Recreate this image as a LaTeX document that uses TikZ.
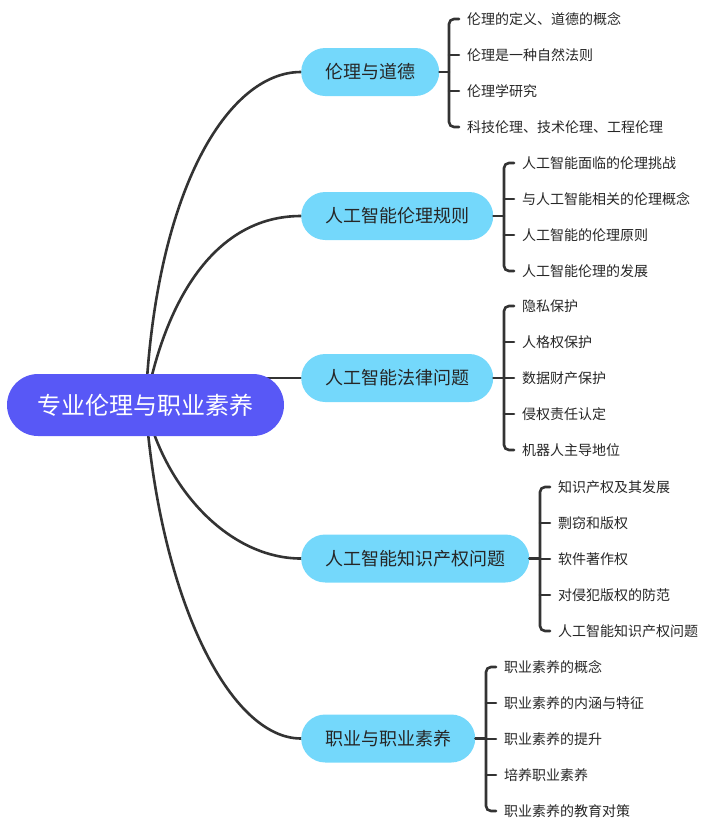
\documentclass[tikz,border=0pt]{standalone}
\usepackage{fontspec}
\setmainfont{Noto Sans CJK SC}
\usetikzlibrary{backgrounds}
\definecolor{rootblue}{RGB}{88,88,246}
\definecolor{topicblue}{RGB}{116,216,251}
\definecolor{linegray}{RGB}{51,51,51}
\tikzset{
	rootnode/.style={fill=rootblue, text=white, rounded corners=31pt, minimum height=62pt, inner xsep=30.5pt, font=\fontsize{24}{27}\selectfont},
	topicnode/.style={fill=topicblue, text=black!85, rounded corners=24pt, minimum height=48pt, inner xsep=24pt, anchor=west, font=\fontsize{18}{21}\selectfont},
	leafnode/.style={anchor=west, inner xsep=8pt, inner ysep=2pt, text=black!85, font=\fontsize{14}{16}\selectfont},
	branch/.style={draw=linegray, line width=2.6pt, line cap=round},
	bracket/.style={branch, rounded corners=5pt},
}

\begin{document}
\begin{tikzpicture}[x=1pt,y=-1pt]
			%%%%% START %%%%%
			\useasboundingbox (0,0) rectangle (708,828);
			
			\node[rootnode] (root) at (145.5,405) {专业伦理与职业素养};
			
			\node[topicnode] (ethics) at (301,72) {伦理与道德};
			\node[topicnode] (airules) at (301,216) {人工智能伦理规则};
			\node[topicnode] (ailaw) at (301,378) {人工智能法律问题};
			\node[topicnode] (aiip) at (301,558.5) {人工智能知识产权问题};
			\node[topicnode] (career) at (301,738.5) {职业与职业素养};
			
			\node[leafnode] (ethics1) at (459,19) {伦理的定义、道德的概念};
			\node[leafnode] (ethics2) at (459,55) {伦理是一种自然法则};
			\node[leafnode] (ethics3) at (459,91) {伦理学研究};
			\node[leafnode] (ethics4) at (459,127) {科技伦理、技术伦理、工程伦理};
			
			\node[leafnode] (airules1) at (514,163) {人工智能面临的伦理挑战};
			\node[leafnode] (airules2) at (514,199) {与人工智能相关的伦理概念};
			\node[leafnode] (airules3) at (514,235) {人工智能的伦理原则};
			\node[leafnode] (airules4) at (514,271) {人工智能伦理的发展};
			
			\node[leafnode] (ailaw1) at (514,306) {隐私保护};
			\node[leafnode] (ailaw2) at (514,342) {人格权保护};
			\node[leafnode] (ailaw3) at (514,378) {数据财产保护};
			\node[leafnode] (ailaw4) at (514,414) {侵权责任认定};
			\node[leafnode] (ailaw5) at (514,450) {机器人主导地位};
			
			\node[leafnode] (aiip1) at (550,487) {知识产权及其发展};
			\node[leafnode] (aiip2) at (550,523) {剽窃和版权};
			\node[leafnode] (aiip3) at (550,559) {软件著作权};
			\node[leafnode] (aiip4) at (550,595) {对侵犯版权的防范};
			\node[leafnode] (aiip5) at (550,631) {人工智能知识产权问题};
			
			\node[leafnode] (career1) at (496,667) {职业素养的概念};
			\node[leafnode] (career2) at (496,703) {职业素养的内涵与特征};
			\node[leafnode] (career3) at (496,739) {职业素养的提升};
			\node[leafnode] (career4) at (496,775) {培养职业素养};
			\node[leafnode] (career5) at (496,811) {职业素养的教育对策};
			
			\begin{scope}[on background layer]
			\draw[branch] (root.center) .. controls (155,190) and (228,72) .. (ethics.west);
			\draw[branch] (root.center) .. controls (165,300) and (215,216) .. (airules.west);
			\draw[branch] (root.center |- ailaw.west) -- (ailaw.west);
			\draw[branch] (root.center) .. controls (165,490) and (230,558.5) .. (aiip.west);
			\draw[branch] (root.center) .. controls (160,600) and (230,738.5) .. (career.west);
			\end{scope}
			
			\coordinate (ethicsbar) at (449,72);
			\draw[branch] (ethics.east) -- (ethicsbar);
			\draw[bracket] (ethics1.west) -| (ethicsbar |- ethics4.west) -- (ethics4.west);
			\draw[branch] (ethics2.west) -- (ethics2.west -| ethicsbar);
			\draw[branch] (ethics3.west) -- (ethics3.west -| ethicsbar);
			
			\coordinate (airulesbar) at (504,216);
			\draw[branch] (airules.east) -- (airulesbar);
			\draw[bracket] (airules1.west) -| (airulesbar |- airules4.west) -- (airules4.west);
			\draw[branch] (airules2.west) -- (airules2.west -| airulesbar);
			\draw[branch] (airules3.west) -- (airules3.west -| airulesbar);
			
			\coordinate (ailawbar) at (504,378);
			\draw[branch] (ailaw.east) -- (ailawbar);
			\draw[bracket] (ailaw1.west) -| (ailawbar |- ailaw5.west) -- (ailaw5.west);
			\draw[branch] (ailaw2.west) -- (ailaw2.west -| ailawbar);
			\draw[branch] (ailaw3.west) -- (ailaw3.west -| ailawbar);
			\draw[branch] (ailaw4.west) -- (ailaw4.west -| ailawbar);
			
			\coordinate (aiipbar) at (540,558.5);
			\draw[branch] (aiip.east) -- (aiipbar);
			\draw[bracket] (aiip1.west) -| (aiipbar |- aiip5.west) -- (aiip5.west);
			\draw[branch] (aiip2.west) -- (aiip2.west -| aiipbar);
			\draw[branch] (aiip3.west) -- (aiip3.west -| aiipbar);
			\draw[branch] (aiip4.west) -- (aiip4.west -| aiipbar);
			
			\coordinate (careerbar) at (486,738.5);
			\draw[branch] (career.east) -- (careerbar);
			\draw[bracket] (career1.west) -| (careerbar |- career5.west) -- (career5.west);
			\draw[branch] (career2.west) -- (career2.west -| careerbar);
			\draw[branch] (career3.west) -- (career3.west -| careerbar);
			\draw[branch] (career4.west) -- (career4.west -| careerbar);
			
			%%%%% END %%%%%
		\end{tikzpicture}
\end{document}
